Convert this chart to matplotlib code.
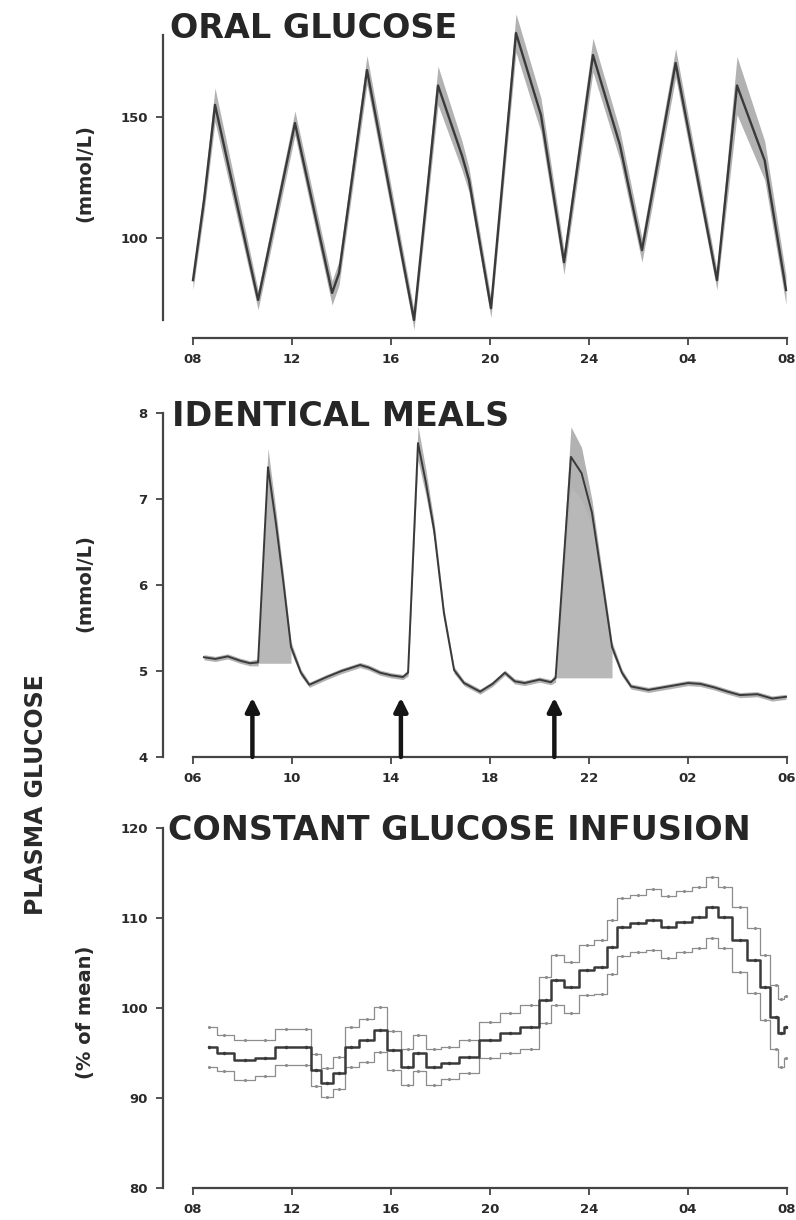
import matplotlib
matplotlib.use("Agg")
import matplotlib.pyplot as plt
import numpy as np

plt.rcParams['font.family'] = ['DejaVu Sans']
plt.rcParams['font.weight'] = 'bold'

W, H = 796, 1220

# ---------------- data ----------------
# Oral glucose: mean and SEM (clock hours, >24 = next day)
oral_hours = [8.0, 8.45, 8.89, 10.63, 12.12, 13.62, 13.9, 15.03, 16.93, 17.9,
              18.87, 19.15, 20.04, 21.05, 22.06, 22.99, 24.16, 25.25, 26.14,
              27.5, 29.17, 29.98, 31.1, 31.96]
oral_mean = [82.6, 116, 155, 74.4, 147.5, 77.3, 85.5, 169.4, 66.1, 163,
             134, 124, 71, 184.7, 150.8, 90, 175.6, 138.4, 95,
             172.3, 82.6, 163, 132, 78.5]
oral_sem = [4, 5, 7, 4, 5, 5, 5, 6, 4, 8,
            6, 5, 4, 8, 7, 5, 7, 6, 5,
            6, 4, 12, 8, 6]
oral_ticks = [8, 12, 16, 20, 24, 28, 32]
oral_ticklabels = ['08', '12', '16', '20', '24', '04', '08']
oral_yticks = [100, 150]

# Identical meals: mean and SEM (mmol/L)
meal_hours = [6.44, 6.9, 7.4, 7.9, 8.3, 8.63, 9.03, 9.35, 9.64, 9.96, 10.36,
              10.7, 11.4, 12.0, 12.75, 13.1, 13.56, 14.0, 14.48, 14.69,
              15.09, 15.41, 15.74, 16.14, 16.55, 16.95, 17.6, 18.1, 18.6,
              19.0, 19.4, 20.0, 20.46, 20.65, 21.27, 21.7, 22.12, 22.53,
              22.93, 23.33, 23.7, 24.4, 25.2, 26.0, 26.5, 27.05, 27.6, 28.1,
              28.8, 29.4, 29.96]
meal_mean = [5.16, 5.14, 5.17, 5.12, 5.09, 5.10, 7.37, 6.72, 6.06, 5.28, 4.98,
             4.84, 4.93, 5.00, 5.07, 5.04, 4.98, 4.95, 4.93, 4.98,
             7.65, 7.19, 6.64, 5.67, 5.01, 4.86, 4.76, 4.85, 4.98,
             4.88, 4.86, 4.90, 4.87, 4.92, 7.49, 7.30, 6.84, 6.06,
             5.28, 4.98, 4.82, 4.78, 4.82, 4.86, 4.85, 4.81, 4.76, 4.72,
             4.73, 4.68, 4.70]
meal_sem = [0.03, 0.03, 0.03, 0.03, 0.03, 0.04, 0.22, 0.15, 0.10, 0.06, 0.04,
            0.03, 0.03, 0.03, 0.03, 0.03, 0.03, 0.03, 0.03, 0.04,
            0.20, 0.15, 0.10, 0.06, 0.04, 0.03, 0.03, 0.03, 0.03,
            0.03, 0.03, 0.03, 0.03, 0.05, 0.35, 0.30, 0.15, 0.10,
            0.06, 0.04, 0.03, 0.03, 0.03, 0.03, 0.03, 0.03, 0.03, 0.03,
            0.03, 0.03, 0.03]
meal_times = [8.4, 14.4, 20.6]
meal_baseline = [5.09, 4.92]
meal_shade_windows = [(8.63, 10.05), (20.46, 23.2)]
meal_ticks = [6, 10, 14, 18, 22, 26, 30]
meal_ticklabels = ['06', '10', '14', '18', '22', '02', '06']
meal_yticks = [4, 5, 6, 7, 8]

# Constant glucose infusion: % of 24-h mean, mean and SEM
inf_hours = [8.65, 9.25, 10.1, 10.9, 11.76, 12.57, 12.97, 13.4, 13.9, 14.4,
             15.03, 15.56, 16.08, 16.69, 17.1, 17.74, 18.34, 19.15, 20.0,
             20.8, 21.66, 22.26, 22.67, 23.27, 23.92, 24.52, 24.93, 25.33,
             25.98, 26.59, 27.2, 27.84, 28.45, 28.97, 29.45, 30.1, 30.7,
             31.1, 31.55, 31.76, 31.96]
inf_mean = [95.7, 95.0, 94.2, 94.4, 95.7, 95.7, 93.1, 91.7, 92.8, 95.7,
            96.4, 97.6, 95.3, 93.4, 95.0, 93.4, 93.9, 94.6, 96.4,
            97.2, 97.9, 100.9, 103.1, 102.3, 104.2, 104.6, 106.8, 109.0,
            109.4, 109.8, 109.0, 109.6, 110.1, 111.2, 110.1, 107.6, 105.3,
            102.3, 99.0, 97.2, 97.9]
inf_sem = [2.2, 2.0, 2.2, 2.0, 2.0, 2.0, 1.8, 1.6, 1.8, 2.2,
           2.4, 2.5, 2.2, 2.0, 2.0, 2.0, 1.8, 1.8, 2.0,
           2.2, 2.4, 2.6, 2.8, 2.8, 2.8, 3.0, 3.0, 3.2,
           3.2, 3.4, 3.4, 3.4, 3.4, 3.4, 3.4, 3.6, 3.6,
           3.6, 3.6, 3.8, 3.4]
inf_ticks = [8, 12, 16, 20, 24, 28, 32]
inf_ticklabels = ['08', '12', '16', '20', '24', '04', '08']
inf_yticks = [80, 90, 100, 110, 120]

INK = '#2a2a2a'
LINE = '#3a3a3a'
BAND = '#b2b2b2'


def px_axes(fig, left, top, right, bottom):
    return fig.add_axes([left / W, 1 - bottom / H, (right - left) / W, (bottom - top) / H])


def style(ax, xticks, xlabels, xbounds, ybounds, yticks):
    for s in ('top', 'right'):
        ax.spines[s].set_visible(False)
    for s in ('left', 'bottom'):
        ax.spines[s].set_color('#444444')
        ax.spines[s].set_linewidth(1.6)
    ax.spines['left'].set_bounds(*ybounds)
    ax.spines['bottom'].set_bounds(*xbounds)
    ax.set_xticks(xticks)
    ax.set_xticklabels(xlabels)
    ax.set_yticks(yticks)
    ax.tick_params(direction='out', length=5, width=1.3, colors='#444444',
                   labelcolor=INK, labelsize=9.5, pad=6)
    ax.set_facecolor('none')


fig = plt.figure(figsize=(W / 100, H / 100), dpi=100)

# ---- Oral glucose ----
ax1 = px_axes(fig, 163, 15, 790, 338)
h1 = np.array(oral_hours)
m1 = np.array(oral_mean)
s1 = np.array(oral_sem)
ax1.fill_between(h1, m1 - s1, m1 + s1, color=BAND, lw=0)
ax1.plot(h1, m1, color=LINE, lw=1.7, solid_joinstyle='round')
ax1.set_xlim(8 - 30 / 24.75, 8 + 597 / 24.75)
ax1.set_ylim(150 - (338 - 117) / 2.42, 150 + 102 / 2.42)
style(ax1, oral_ticks, oral_ticklabels, (8, 32), (66.1, 183.9), oral_yticks)
ax1.set_yticklabels([str(v) for v in oral_yticks])

# ---- Identical meals ----
ax2 = px_axes(fig, 163, 395, 790, 757)
h2 = np.array(meal_hours)
m2 = np.array(meal_mean)
s2 = np.array(meal_sem)
for (a, b), base in zip(meal_shade_windows, meal_baseline):
    sel = (h2 >= a) & (h2 <= b)
    ax2.fill_between(h2[sel], base, m2[sel], where=m2[sel] >= base,
                     color='#b8b8b8', lw=0, interpolate=True)
ax2.fill_between(h2, m2 - s2, m2 + s2, color=BAND, lw=0)
ax2.plot(h2, m2, color=LINE, lw=1.4)
for t in meal_times:
    ax2.annotate('', xy=(t, 4.69), xytext=(t, 4.0),
                 arrowprops=dict(arrowstyle='-|>', lw=3.2, color='#151515',
                                 mutation_scale=20, shrinkA=0, shrinkB=0))
ax2.set_xlim(6 - 30 / 24.75, 6 + 597 / 24.75)
ax2.set_ylim(4, 4 + 362 / 86)
style(ax2, meal_ticks, meal_ticklabels, (6, 30), (4, 8), meal_yticks)

# ---- Constant glucose infusion ----
ax3 = px_axes(fig, 163, 815, 790, 1188)
h3 = np.array(inf_hours)
m3 = np.array(inf_mean)
s3 = np.array(inf_sem)
for band in (m3 + s3, m3 - s3):
    ax3.plot(h3, band, color='#8c8c8c', lw=0.9, drawstyle='steps-mid',
             marker='.', ms=2.5)
ax3.plot(h3, m3, color=LINE, lw=1.8, drawstyle='steps-mid', marker='.', ms=3)
ax3.set_xlim(8 - 30 / 24.75, 8 + 597 / 24.75)
ax3.set_ylim(80, 120 + 13 / 9)
style(ax3, inf_ticks, inf_ticklabels, (8, 32), (80, 120), inf_yticks)

# ---- titles and labels ----
title_kw = dict(fontsize=24, fontweight='bold', color='#262626', va='center', ha='left')
fig.text(170 / W, 1 - 29 / H, 'ORAL GLUCOSE', **title_kw)
fig.text(172 / W, 1 - 416 / H, 'IDENTICAL MEALS', **title_kw)
fig.text(168 / W, 1 - 830 / H, 'CONSTANT GLUCOSE INFUSION', **title_kw)

lab_kw = dict(fontsize=14, fontweight='bold', color=INK, rotation=90,
              va='center', ha='center')
fig.text(85 / W, 1 - 173 / H, '(mmol/L)', **lab_kw)
fig.text(85 / W, 1 - 583 / H, '(mmol/L)', **lab_kw)
fig.text(85 / W, 1 - 1012 / H, '(% of mean)', **lab_kw)
fig.text(36 / W, 1 - 795 / H, 'PLASMA GLUCOSE', fontsize=17, fontweight='bold',
         color=INK, rotation=90, va='center', ha='center')

fig.savefig('out.png', dpi=100, facecolor='white')
